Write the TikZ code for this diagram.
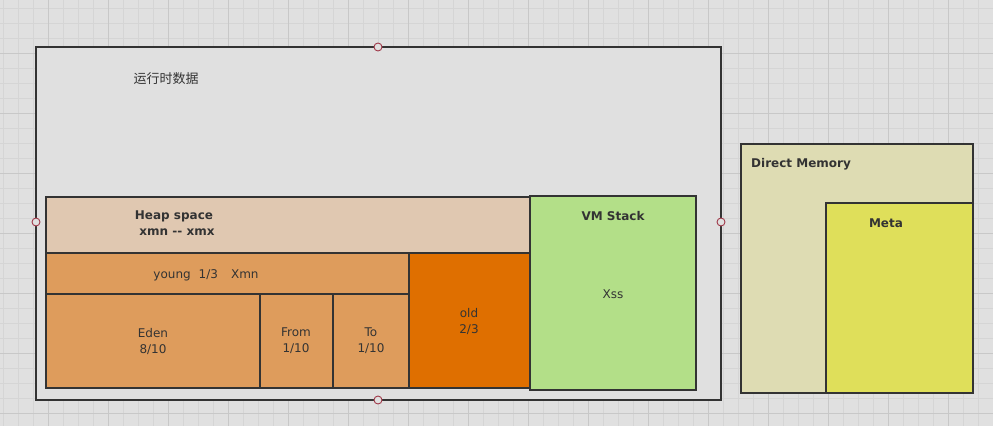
\documentclass[tikz,border=0pt]{standalone}
\usepackage{fontspec}
\setmainfont{DejaVu Sans}
\newfontfamily\cjkfont{Noto Sans CJK SC}
\definecolor{bgc}{HTML}{E0E0E0}
\definecolor{gridminor}{HTML}{D5D5D5}
\definecolor{gridmajor}{HTML}{C8C8C8}
\definecolor{linec}{HTML}{333333}
\definecolor{heapc}{HTML}{E0C8B1}
\definecolor{youngc}{HTML}{DE9C5C}
\definecolor{oldc}{HTML}{DF6F00}
\definecolor{vmc}{HTML}{B3DF88}
\definecolor{directc}{HTML}{DEDCB3}
\definecolor{metac}{HTML}{DFDF5A}
\definecolor{handlec}{HTML}{A03A4A}
\begin{document}
\begin{tikzpicture}[x=1pt,y=-1pt,
  region/.style={draw=linec, line width=2pt},
  lbl/.style={font=\fontsize{12}{16}\selectfont, text=linec, align=center, inner sep=0pt},
  blbl/.style={font=\fontsize{12}{16}\selectfont\bfseries, text=linec, align=center, inner sep=0pt},
  handle/.style={circle, draw=handlec, fill=bgc, line width=0.9pt, minimum size=8pt, inner sep=0pt}]
\useasboundingbox (0,0) rectangle (993,426);
\fill[bgc] (0,0) rectangle (993,426);
% grid
\foreach \x in {3,18,...,993} \draw[gridminor, line width=1pt] (\x,0) -- (\x,426);
\foreach \y in {8,23,...,426} \draw[gridminor, line width=1pt] (0,\y) -- (993,\y);
\foreach \x in {48,108,...,993} \draw[gridmajor, line width=1pt] (\x,0) -- (\x,426);
\foreach \y in {53,113,...,426} \draw[gridmajor, line width=1pt] (0,\y) -- (993,\y);
% outer runtime data box
\filldraw[region, fill=bgc] (36,47) rectangle (721,400);
\node[lbl, font=\fontsize{13}{16}\selectfont\cjkfont] (rt) at (166,79) {运行时数据};
% heap
\filldraw[region, fill=heapc] (46,197) rectangle (530,253);
\node[blbl] (heap) at (174,223) {Heap space\\\hspace*{6pt}xmn -{}- xmx};
% young
\filldraw[region, fill=youngc] (46,253) rectangle (409,294);
\node[lbl] (young) at (206,275) {young\hspace{8pt}1/3\hspace{13pt}Xmn};
% eden, from, to
\filldraw[region, fill=youngc] (46,294) rectangle (260,388);
\filldraw[region, fill=youngc] (260,294) rectangle (333,388);
\filldraw[region, fill=youngc] (333,294) rectangle (409,388);
\node[lbl] (eden) at (153,341) {Eden\\8/10};
\node[lbl] (from) at (296,341) {From\\1/10};
\node[lbl] (to) at (371,341) {To\\1/10};
% old
\filldraw[region, fill=oldc] (409,253) rectangle (530,388);
\node[lbl] (old) at (469,321) {old\\2/3};
% VM stack
\filldraw[region, fill=vmc] (530,196) rectangle (696,390);
\node[blbl] (vm) at (613,216) {VM Stack};
\node[lbl] (xss) at (613,294) {Xss};
% direct memory
\filldraw[region, fill=directc] (741,144) rectangle (973,393);
\node[blbl, anchor=west] (direct) at (751,164) {Direct Memory};
\filldraw[region, fill=metac] (826,203) rectangle (973,393);
\node[blbl] (meta) at (886,223) {Meta};
% selection handles
\node[handle] (h1) at (378,47) {};
\node[handle] (h2) at (36,222) {};
\node[handle] (h3) at (721,222) {};
\node[handle] (h4) at (378,400) {};
\end{tikzpicture}
\end{document}
